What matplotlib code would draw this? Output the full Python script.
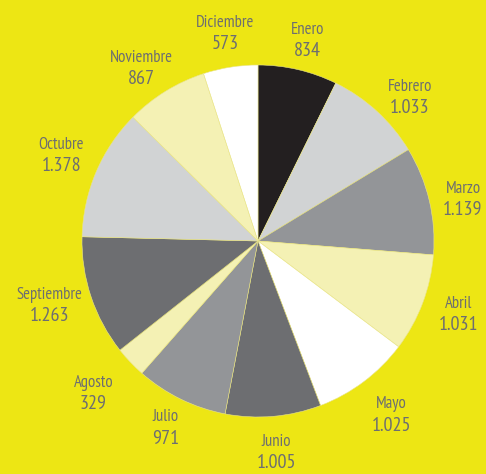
import numpy as np
import matplotlib
matplotlib.use("Agg")
import matplotlib.pyplot as plt
from matplotlib import font_manager

# monthly values, clockwise from 12 o'clock
months = ["Enero", "Febrero", "Marzo", "Abril", "Mayo", "Junio",
          "Julio", "Agosto", "Septiembre", "Octubre", "Noviembre", "Diciembre"]
values = [834, 1033, 1139, 1031, 1025, 1005, 971, 329, 1263, 1378, 867, 573]
value_labels = ["834", "1.033", "1.139", "1.031", "1.025", "1.005",
                "971", "329", "1.263", "1.378", "867", "573"]
colors = ["#231f20", "#d1d3d4", "#939598", "#f4f1b4", "#ffffff", "#6d6e71",
          "#939598", "#f4f1b4", "#6d6e71", "#d1d3d4", "#f4f1b4", "#ffffff"]

bg = "#ede614"
txt = "#6d6e71"

# pick a condensed face if one is installed
names = {f.name for f in font_manager.fontManager.ttflist}
family = "DejaVu Sans"
for cand in ["PT Sans Narrow", "Roboto Condensed", "Open Sans Condensed",
             "Archivo Narrow", "Fira Sans Condensed", "Encode Sans Condensed",
             "Liberation Sans Narrow", "Asap Condensed", "Barlow Semi Condensed"]:
    if cand in names:
        family = cand
        break

fig = plt.figure(figsize=(4.86, 4.74), dpi=100, facecolor=bg)
ax = fig.add_axes([82 / 486, 57 / 474, 352 / 486, 352 / 474])
ax.set_facecolor(bg)

wedges, _ = ax.pie(values, colors=colors, startangle=90, counterclock=False,
                   radius=1, wedgeprops=dict(linewidth=0.4, edgecolor="#e9e48a"))
ax.set_xlim(-1, 1)
ax.set_ylim(-1, 1)
ax.set_aspect("equal")
ax.axis("off")

# labels around the pie at each wedge's mid angle (with small hand nudges)
dist = [1.18, 1.19, 1.19, 1.21, 1.24, 1.2, 1.18, 1.27, 1.24, 1.22, 1.19, 1.2]
nudge = [0.6, 4, 1.6, -0.9, -0.7, 0, 0.4, 0.9, 1.5, 0.7, -2.3, 0]  # deg, clockwise
for w, name, lab, d, n in zip(wedges, months, value_labels, dist, nudge):
    ang = np.deg2rad((w.theta1 + w.theta2) / 2 - n)
    x, y = d * np.cos(ang), d * np.sin(ang)
    ax.text(x, y + 0.032, name, ha="center", va="baseline", fontsize=12,
            color=txt, family=family, clip_on=False)
    ax.text(x, y - 0.095, lab, ha="center", va="baseline", fontsize=14.5,
            color=txt, family=family, clip_on=False)

fig.savefig("out.png", dpi=100, facecolor=bg)
